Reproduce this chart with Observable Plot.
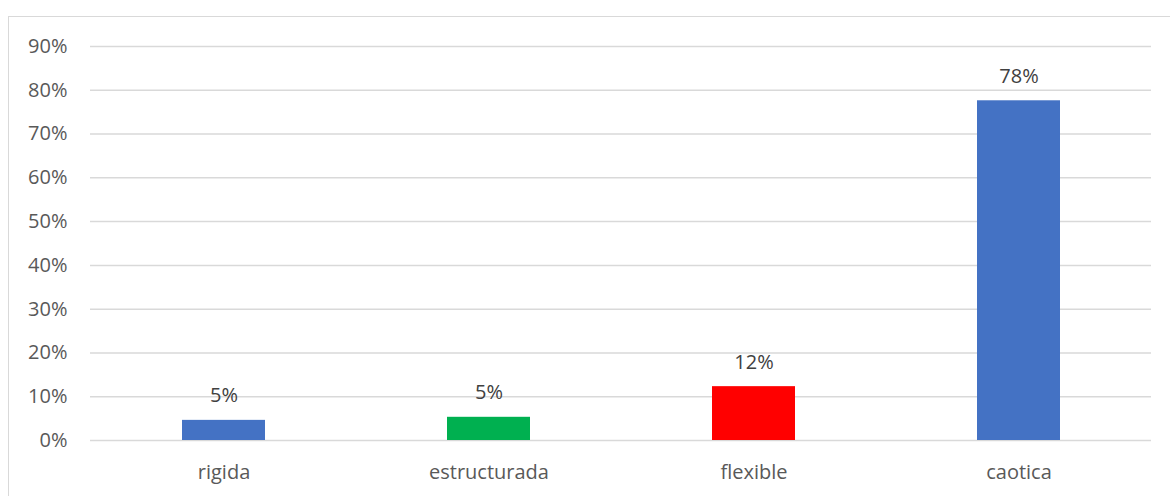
<!DOCTYPE html>
<html>
<head>
<meta charset="utf-8">
<script src="https://cdn.jsdelivr.net/npm/d3@7"></script>
<script src="https://cdn.jsdelivr.net/npm/@observablehq/plot@0.6"></script>
<style>
  html, body { margin: 0; padding: 0; background: #fff; }
  #wrap { position: relative; width: 1170px; height: 496px; overflow: hidden; }
  #frame { position: absolute; left: 8px; top: 16px; width: 1200px; height: 600px; border: 1.5px solid #d9d9d9; box-sizing: border-box; }
  #chart { position: absolute; left: 0; top: 0; }
</style>
</head>
<body>
<div id="wrap"><div id="frame"></div><div id="chart"></div></div>
<script>
const categories = ["rigida", "estructurada", "flexible", "caotica"];
const values = [0.046, 0.053, 0.123, 0.776];
const labels = ["5%", "5%", "12%", "78%"];
const colors = ["#4472C4", "#00B050", "#FF0000", "#4472C4"];
const yTicks = [0, 0.1, 0.2, 0.3, 0.4, 0.5, 0.6, 0.7, 0.8, 0.9];

const data = categories.map((c, i) => ({cat: c, value: values[i], label: labels[i], color: colors[i]}));

const chart = Plot.plot({
  width: 1170,
  height: 496,
  marginLeft: 90,
  marginRight: 19,
  marginTop: 46,
  marginBottom: 56,
  style: {fontFamily: "'Open Sans', sans-serif", fontSize: "20px", background: "transparent"},
  x: {domain: categories, paddingInner: 0.687, paddingOuter: 0.3435, label: null},
  y: {domain: [0, 0.9], label: null},
  marks: [
    Plot.gridY(yTicks, {stroke: "#d9d9d9", strokeWidth: 1.5, strokeOpacity: 1}),
    Plot.barY(data, {x: "cat", y: "value", fill: "color"}),
    Plot.text(data, {x: "cat", y: "value", text: "label", lineAnchor: "bottom", dy: -18, fill: "#404040", fontSize: 20}),
    Plot.axisY({ticks: yTicks, tickFormat: d3.format(".0%"), tickSize: 0, tickPadding: 23, color: "#595959", fontSize: 20, label: null}),
    Plot.axisX({tickSize: 0, tickPadding: 24, color: "#595959", fontSize: 20, label: null})
  ]
});
document.getElementById("chart").appendChild(chart);
</script>
</body>
</html>
